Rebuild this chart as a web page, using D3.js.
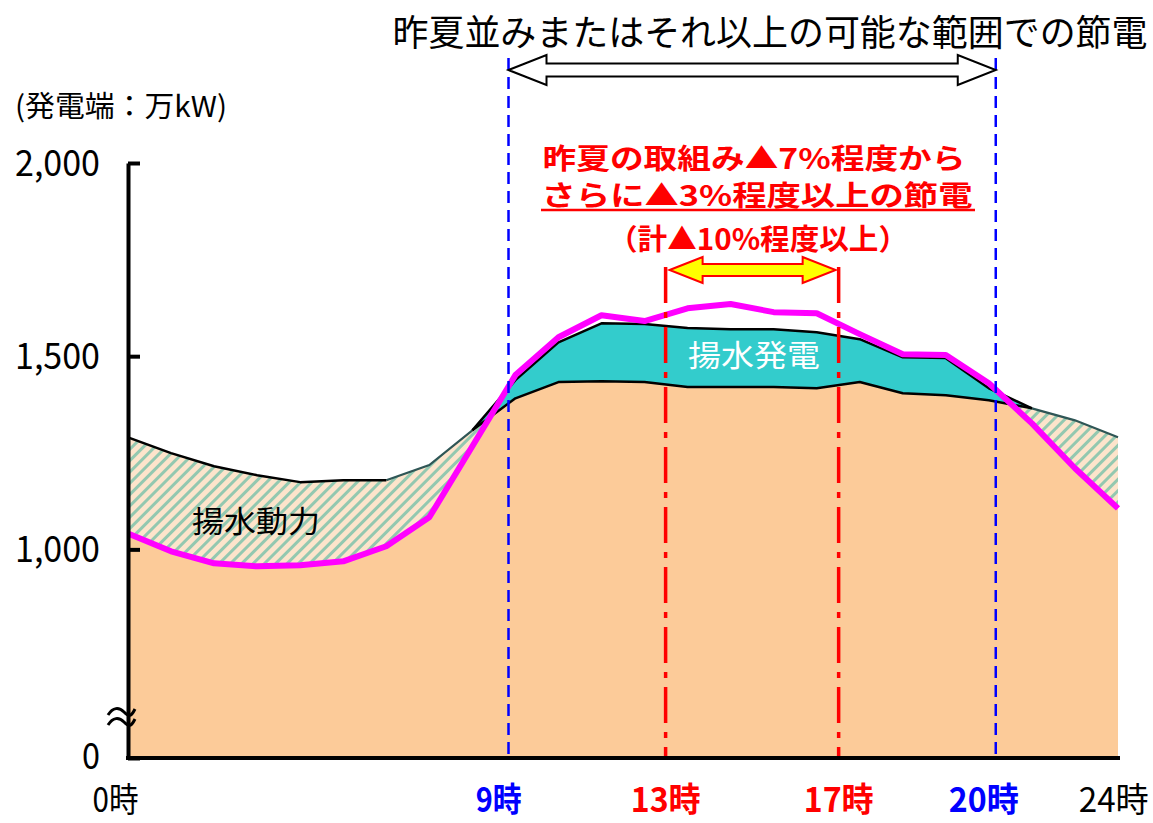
<!DOCTYPE html>
<html><head><meta charset="utf-8">
<script src="https://cdn.jsdelivr.net/npm/d3@7"></script>
<style>
html,body{margin:0;padding:0;background:#fff;}
svg{display:block;}
text{font-family:"Noto Sans CJK JP","Liberation Sans",sans-serif;}
</style></head>
<body>
<svg id="chart" width="1153" height="823"></svg>
<script>
// ---- data (万kW), hourly points 0..23 ----
const hours = [0,1,2,3,4,5,6,7,8,9,10,11,12,13,14,15,16,17,18,19,20,21,22,23];
// demand (magenta line)
const demand = [1041,995,964,956,959,969,1008,1083,1267,1451,1549,1606,1591,1624,1635,1614,1611,1557,1505,1503,1430,1326,1210,1106];
// total supply including pumped-storage (top black line)
const supplyTotal = [1290,1249,1215,1192,1174,1179,1179,1218,1308,1438,1536,1585,1583,1573,1570,1570,1562,1544,1497,1495,1417,1365,1334,1290];
// supply without pumped-storage generation (lower black line)
const supplyBase = [1290,1249,1215,1192,1174,1179,1179,1218,1308,1391,1433,1435,1433,1420,1420,1420,1417,1433,1404,1399,1386,1365,1334,1290];
// axis
const yTickValues = [2000,1500,1000,0];
const yTickLabels = ["2,000","1,500","1,000","0"];
const xLabelTexts = ["0時","9時","13時","17時","20時","24時"];
const xLabelAt = [-0.3,8.6,12.48,16.5,19.87,22.89];
const xLabelColors = ["#000","#0000ff","#ff0000","#ff0000","#0000ff","#000"];
const xLabelBold = [false,true,true,true,true,false];
// marker lines (hours)
const blueMarkers = [8.84,20.16];
const redMarkers = [12.49,16.51];

const svg = d3.select("#chart");
const x = d3.scaleLinear().domain([0,23]).range([128,1118]);
const y = d3.scaleLinear().domain([0,460,2000]).range([758,758,163]);

const defs = svg.append("defs");
const pat = defs.append("pattern").attr("id","hatch").attr("patternUnits","userSpaceOnUse")
  .attr("width",8).attr("height",8).attr("patternTransform","rotate(45)");
pat.append("rect").attr("width",8).attr("height",8).attr("fill","#fde4cb");
pat.append("rect").attr("x",0).attr("width",3).attr("height",8).attr("fill","#93c8b0");

const under = d3.area().x((d,i)=>x(hours[i])).y0(y(0)).y1(d=>y(d));
defs.append("clipPath").attr("id","underTop").append("path").attr("d",under(supplyTotal));

// orange base area
svg.append("path").attr("d",under(supplyBase)).attr("fill","#fccb99");

// hatched pumping power (between demand and total where total > demand)
const band = d3.area().x((d,i)=>x(hours[i])).y0((d,i)=>y(demand[i])).y1(d=>y(d));
svg.append("path").attr("d",band(supplyTotal)).attr("fill","url(#hatch)").attr("clip-path","url(#underTop)");

// teal pumped generation
const gen = d3.area().x((d,i)=>x(hours[i])).y0((d,i)=>y(supplyBase[i])).y1(d=>y(d));
svg.append("path").attr("d",gen(supplyTotal)).attr("fill","#33cccc");

// lines
const greyLine = d3.line().defined((d,i)=>(i>=6 && i<=8) || i>=21).x((d,i)=>x(hours[i])).y(d=>y(d));
svg.append("path").attr("d",greyLine(supplyTotal)).attr("fill","none").attr("stroke","#2f5656").attr("stroke-width",2.2);
const blackLine = d3.line().defined((d,i)=>i<=6 || (i>=8 && i<=21)).x((d,i)=>x(hours[i])).y(d=>y(d));
svg.append("path").attr("d",blackLine(supplyTotal)).attr("fill","none").attr("stroke","#000").attr("stroke-width",2.5).attr("stroke-linejoin","round");
const baseLine = d3.line().defined((d,i)=>i>=8 && i<=21).x((d,i)=>x(hours[i])).y(d=>y(d));
svg.append("path").attr("d",baseLine(supplyBase)).attr("fill","none").attr("stroke","#000").attr("stroke-width",2.5).attr("stroke-linejoin","round");
const line = d3.line().x((d,i)=>x(hours[i])).y(d=>y(d));
svg.append("path").attr("d",line(demand)).attr("fill","none").attr("stroke","#ff00ff").attr("stroke-width",6).attr("stroke-linejoin","round");

// area labels
svg.append("text").attr("x",256).attr("y",519).attr("text-anchor","middle").attr("dominant-baseline","central")
  .attr("font-size",30).attr("textLength",128).attr("lengthAdjust","spacingAndGlyphs").attr("fill","#000").text("揚水動力");
svg.append("text").attr("x",754).attr("y",353).attr("text-anchor","middle").attr("dominant-baseline","central")
  .attr("font-size",30).attr("textLength",132).attr("lengthAdjust","spacingAndGlyphs").attr("fill","#fff").text("揚水発電");

// marker lines
svg.selectAll(".blue").data(blueMarkers).join("line").attr("class","blue")
  .attr("x1",d=>x(d)).attr("x2",d=>x(d)).attr("y1",58).attr("y2",y(0))
  .attr("stroke","#0000ff").attr("stroke-width",2.5).attr("stroke-dasharray","12,7");
svg.selectAll(".red").data(redMarkers).join("line").attr("class","red")
  .attr("x1",d=>x(d)).attr("x2",d=>x(d)).attr("y1",267).attr("y2",y(0))
  .attr("stroke","#ff0000").attr("stroke-width",3.5).attr("stroke-dasharray","36,9,6,9");

// axes
const yAxis = d3.axisLeft(y).tickValues(yTickValues).tickSize(-12).tickSizeOuter(0).tickPadding(28)
  .tickFormat((d,i)=>yTickLabels[i]);
const gy = svg.append("g").attr("transform",`translate(${x(0)},0)`).call(yAxis);
gy.select(".domain").attr("stroke","#000").attr("stroke-width",4);
gy.selectAll(".tick line").attr("stroke","#000").attr("stroke-width",4);
gy.selectAll(".tick text").attr("font-size",36).attr("fill","#000")
  .attr("font-family","'Noto Sans CJK JP','Liberation Sans',sans-serif")
  .attr("textLength",(d,i)=>i<3?85:18).attr("lengthAdjust","spacingAndGlyphs")
  .attr("dy","0.35em");
gy.selectAll(".tick").filter(d=>d===0).select("text").attr("x",-28).attr("dy","0.3em");

const xAxis = d3.axisBottom(x).tickValues(xLabelAt).tickSize(0).tickSizeOuter(0).tickPadding(54)
  .tickFormat((d,i)=>xLabelTexts[i]);
const gx = svg.append("g").attr("transform",`translate(0,${y(0)})`).call(xAxis);
gx.select(".domain").attr("stroke","#000").attr("stroke-width",4).attr("d",`M${x(0)-2},0H${x(23)+2}`);
gx.selectAll(".tick text").attr("font-size",34)
  .attr("font-family","'Noto Sans CJK JP','Liberation Sans',sans-serif")
  .attr("fill",(d,i)=>xLabelColors[i]).attr("font-weight",(d,i)=>xLabelBold[i]?"bold":"normal")
  .attr("textLength",(d,i)=>xLabelTexts[i].length>2?70:46).attr("lengthAdjust","spacingAndGlyphs")
  .attr("dy","0");

// axis break symbol
const bx = x(0);
[712,722].forEach(by=>{
  svg.append("path").attr("d",`M${bx-20},${by+3} C${bx-15},${by-5} ${bx-9},${by-5} ${bx-4},${by} S${bx+3},${by+5} ${bx+7},${by-3}`)
    .attr("fill","none").attr("stroke","#000").attr("stroke-width",3);
});

// unit label
svg.append("text").attr("x",15).attr("y",104).attr("dominant-baseline","central").attr("font-size",29)
  .attr("textLength",212).attr("lengthAdjust","spacingAndGlyphs").text("(発電端：万kW)");

// title
svg.append("text").attr("x",770).attr("y",30).attr("text-anchor","middle").attr("dominant-baseline","central")
  .attr("font-size",36).attr("textLength",755).attr("lengthAdjust","spacingAndGlyphs").text("昨夏並みまたはそれ以上の可能な範囲での節電");

// top double arrow (white)
function dblArrow(x1,x2,cy,hh,sh,hl){
  return `M${x1},${cy} L${x1+hl},${cy-hh} L${x1+hl},${cy-sh} L${x2-hl},${cy-sh} L${x2-hl},${cy-hh} L${x2},${cy} L${x2-hl},${cy+hh} L${x2-hl},${cy+sh} L${x1+hl},${cy+sh} L${x1+hl},${cy+hh} Z`;
}
svg.append("path").attr("d",dblArrow(x(blueMarkers[0]),x(blueMarkers[1]),70,15,6.5,38))
  .attr("fill","#fff").attr("stroke","#000").attr("stroke-width",2);

// red notes
const red = svg.append("g").attr("fill","#ff0000").attr("font-weight","bold");
red.append("text").attr("x",754).attr("y",157).attr("text-anchor","middle").attr("dominant-baseline","central")
  .attr("font-size",28).attr("textLength",423).attr("lengthAdjust","spacingAndGlyphs").text("昨夏の取組み▲7%程度から");
red.append("text").attr("x",757).attr("y",194).attr("text-anchor","middle").attr("dominant-baseline","central")
  .attr("font-size",28).attr("textLength",431).attr("lengthAdjust","spacingAndGlyphs").text("さらに▲3%程度以上の節電");
svg.append("line").attr("x1",541).attr("x2",975).attr("y1",210).attr("y2",210).attr("stroke","#ff0000").attr("stroke-width",2.5);
red.append("text").attr("x",758).attr("y",237).attr("text-anchor","middle").attr("dominant-baseline","central")
  .attr("font-size",29).attr("textLength",300).attr("lengthAdjust","spacingAndGlyphs").text("（計▲10%程度以上）");

// yellow arrow
svg.append("path").attr("d",dblArrow(x(redMarkers[0])+4,x(redMarkers[1])-3,270,13,6,33))
  .attr("fill","#ffff00").attr("stroke","#ff0000").attr("stroke-width",2);
</script>
</body></html>
